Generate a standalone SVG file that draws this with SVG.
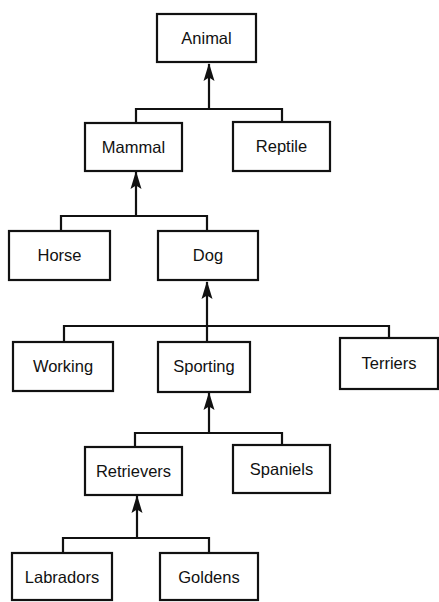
<svg xmlns="http://www.w3.org/2000/svg" width="439" height="602" viewBox="0 0 439 602">
<style>
.box{fill:#fff;stroke:#111;stroke-width:2.2}
.lbl{font-family:"Liberation Sans",Arial,sans-serif;font-size:16.5px;fill:#111;text-anchor:middle}
.ln{fill:none;stroke:#111;stroke-width:2.2}
</style>
<defs>
<marker id="ah" viewBox="0 0 18 12" refX="17" refY="6" markerWidth="18" markerHeight="12" markerUnits="userSpaceOnUse" orient="auto">
<path d="M18,6 L0,0.5 L3.5,6 L0,11.5 Z" fill="#111"/>
</marker>
</defs>
<rect width="439" height="602" fill="#fff"/>
<g id="connectors">
<path class="ln" d="M136,123 V109 H282 V122"/>
<path class="ln" d="M209,109 V64" marker-end="url(#ah)"/>
<path class="ln" d="M61,231 V216 H207 V231"/>
<path class="ln" d="M136,216 V172" marker-end="url(#ah)"/>
<path class="ln" d="M64,342 V326 H389 V338"/>
<path class="ln" d="M207,342 V282" marker-end="url(#ah)"/>
<path class="ln" d="M135,447 V433 H282 V445"/>
<path class="ln" d="M209,433 V393" marker-end="url(#ah)"/>
<path class="ln" d="M63,553 V538 H209 V553"/>
<path class="ln" d="M137,538 V496" marker-end="url(#ah)"/>
</g>
<g id="animal"><rect class="box" x="157" y="14" width="99" height="48"/><text class="lbl" x="206.5" y="44">Animal</text></g>
<g id="mammal"><rect class="box" x="85" y="123" width="97" height="48"/><text class="lbl" x="133.5" y="153">Mammal</text></g>
<g id="reptile"><rect class="box" x="233" y="122" width="97" height="49"/><text class="lbl" x="281.5" y="152">Reptile</text></g>
<g id="horse"><rect class="box" x="9" y="231" width="101" height="49"/><text class="lbl" x="59.5" y="261">Horse</text></g>
<g id="dog"><rect class="box" x="158" y="231" width="100" height="49"/><text class="lbl" x="208" y="261">Dog</text></g>
<g id="working"><rect class="box" x="13" y="342" width="100" height="49"/><text class="lbl" x="63" y="372">Working</text></g>
<g id="sporting"><rect class="box" x="158" y="342" width="92" height="50"/><text class="lbl" x="204" y="372">Sporting</text></g>
<g id="terriers"><rect class="box" x="340" y="338" width="98" height="51"/><text class="lbl" x="389" y="369">Terriers</text></g>
<g id="retrievers"><rect class="box" x="85" y="447" width="97" height="48"/><text class="lbl" x="133.5" y="477">Retrievers</text></g>
<g id="spaniels"><rect class="box" x="233" y="445" width="97" height="48"/><text class="lbl" x="281.5" y="475">Spaniels</text></g>
<g id="labradors"><rect class="box" x="12" y="553" width="100" height="47"/><text class="lbl" x="62" y="583">Labradors</text></g>
<g id="goldens"><rect class="box" x="160" y="553" width="98" height="47"/><text class="lbl" x="209" y="583">Goldens</text></g>
</svg>
